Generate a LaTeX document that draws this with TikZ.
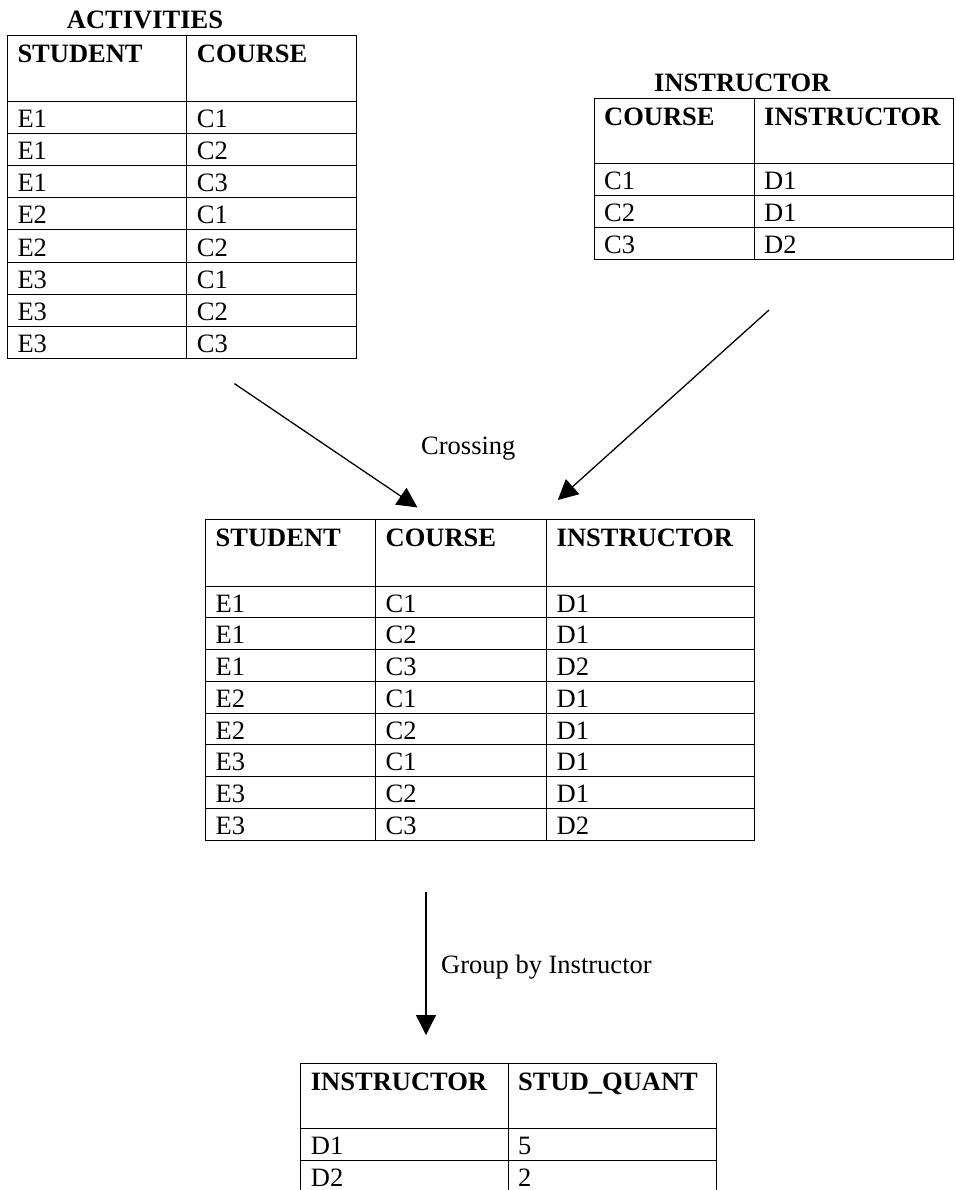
\documentclass[tikz,border=0pt]{standalone}
\usepackage{fontspec}
\setmainfont{Liberation Serif}
\usetikzlibrary{arrows.meta}
\begin{document}
\begin{tikzpicture}[x=1pt,y=-1pt,
  grid/.style={line width=1pt,black},
  tablebox/.style={draw,line width=1pt,inner sep=0pt,outer sep=0pt,anchor=north west},
  cell/.style={anchor=base west,inner sep=0pt,font=\fontsize{26.5}{30}\selectfont},
  head/.style={anchor=base west,inner sep=0pt,font=\fontsize{26.5}{30}\selectfont\bfseries},
  flow/.style={line width=1.3pt,-{Triangle[length=20pt,width=20pt]}}]
\useasboundingbox (0,0) rectangle (955,1190);
\fill[white] (0,0) rectangle (955,1190);

% ---------- ACTIVITIES ----------
\node[head] (actTitle) at (66.7,28.3) {ACTIVITIES};
\node[tablebox,minimum width=349.4pt,minimum height=322pt] (act) at (7.3,36) {};
\draw[grid] (186.7,36) -- (186.7,358);
\foreach \y in {102,134,...,326} \draw[grid] (7.3,\y) -- (356.7,\y);
\node[head] (actH1) at (17.3,63) {STUDENT};
\node[head] (actH2) at (196.7,63) {COURSE};
\foreach \s/\c [count=\i from 0] in {E1/C1,E1/C2,E1/C3,E2/C1,E2/C2,E3/C1,E3/C2,E3/C3}{
  \node[cell] (act-\i-a) at (17.3,{128+32*\i}) {\s};
  \node[cell] (act-\i-b) at (196.7,{128+32*\i}) {\c};
}

% ---------- INSTRUCTOR ----------
\node[head] (insTitle) at (654,91.7) {INSTRUCTOR};
\node[tablebox,minimum width=359pt,minimum height=161pt] (ins) at (594,98.3) {};
\draw[grid] (754,98.3) -- (754,259.3);
\foreach \y in {163.3,195.3,227.3} \draw[grid] (594,\y) -- (953,\y);
\node[head] (insH1) at (604,125.3) {COURSE};
\node[head] (insH2) at (764,125.3) {INSTRUCTOR};
\foreach \c/\d [count=\i from 0] in {C1/D1,C2/D1,C3/D2}{
  \node[cell] (ins-\i-a) at (604,{189.3+32*\i}) {\c};
  \node[cell] (ins-\i-b) at (764,{189.3+32*\i}) {\d};
}

% ---------- joined table ----------
\node[tablebox,minimum width=548.5pt,minimum height=321pt] (join) at (205.5,519) {};
\draw[grid] (375.5,519) -- (375.5,840);
\draw[grid] (546.5,519) -- (546.5,840);
\foreach \i in {0,...,7} \draw[grid] (205.5,{586+31.75*\i}) -- (754,{586+31.75*\i});
\node[head] (joinH1) at (215.5,546) {STUDENT};
\node[head] (joinH2) at (385.5,546) {COURSE};
\node[head] (joinH3) at (556.5,546) {INSTRUCTOR};
\foreach \s/\c/\d [count=\i from 0] in {E1/C1/D1,E1/C2/D1,E1/C3/D2,E2/C1/D1,E2/C2/D1,E3/C1/D1,E3/C2/D1,E3/C3/D2}{
  \node[cell] (join-\i-a) at (215.5,{612+31.75*\i}) {\s};
  \node[cell] (join-\i-b) at (385.5,{612+31.75*\i}) {\c};
  \node[cell] (join-\i-c) at (556.5,{612+31.75*\i}) {\d};
}

% ---------- grouped result ----------
\node[tablebox,minimum width=415.3pt,minimum height=129pt] (grp) at (300.7,1063) {};
\draw[grid] (508,1063) -- (508,1192);
\foreach \y in {1128,1160} \draw[grid] (300.7,\y) -- (716,\y);
\node[head] (grpH1) at (310.7,1090) {INSTRUCTOR};
\node[head] (grpH2) at (518,1090) {STUD\_QUANT};
\node[cell] (grp-0-a) at (310.7,1154) {D1};
\node[cell] (grp-0-b) at (518,1154) {5};
\node[cell] (grp-1-a) at (310.7,1186) {D2};
\node[cell] (grp-1-b) at (518,1186) {2};

% ---------- operations ----------
\coordinate (actOut) at (234.4,383.6);
\coordinate (crossL) at (417.4,507.4);
\coordinate (insOut) at (769,310);
\coordinate (crossR) at (557.8,500);
\coordinate (joinOut) at (426,892);
\coordinate (grpIn) at (426,1035);
\draw[flow] (actOut) -- (crossL);
\draw[flow] (insOut) -- (crossR);
\draw[flow] (joinOut) -- (grpIn);
\node[cell] (lblCross) at (421,454.5) {Crossing};
\node[cell] (lblGroup) at (441,973) {Group by Instructor};
\end{tikzpicture}
\end{document}
